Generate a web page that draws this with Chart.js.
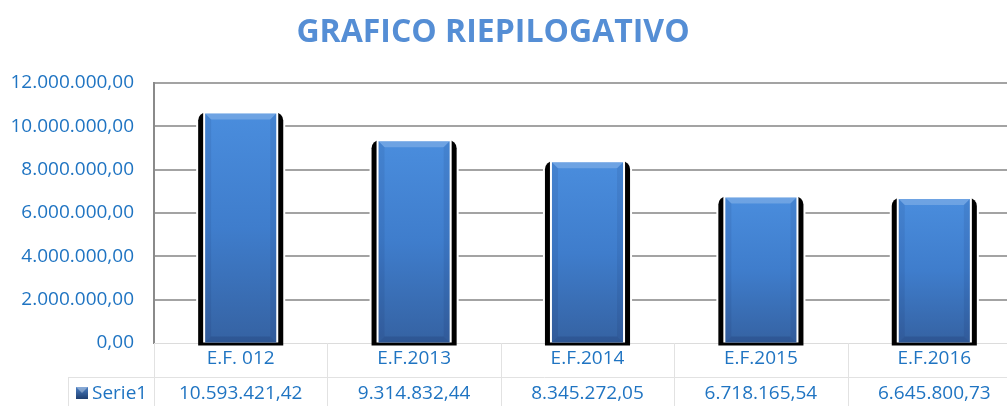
<!DOCTYPE html>
<html>
<head>
<meta charset="utf-8">
<script src="https://cdn.jsdelivr.net/npm/chart.js@4/dist/chart.umd.min.js"></script>
<style>
  html, body { margin: 0; padding: 0; background: #fff; overflow: hidden; }
  #wrap { width: 1007px; height: 406px; overflow: hidden; }
</style>
</head>
<body>
<div id="wrap"><canvas id="myChart" width="1021" height="406"></canvas></div>
<script>
var categories = ["E.F. 012", "E.F.2013", "E.F.2014", "E.F.2015", "E.F.2016"];
var serie1 = [10593421.42, 9314832.44, 8345272.05, 6718165.54, 6645800.73];
var seriesName = "Serie1";
var yTicks = [0, 2000000, 4000000, 6000000, 8000000, 10000000, 12000000];
var titleText = "GRAFICO RIEPILOGATIVO";

var textColor = "#1f74c2";
var font = "'Open Sans', sans-serif";

// 1234567.8 -> "1.234.567,80"
function fmt(v) {
  var parts = v.toFixed(2).split(".");
  return parts[0].replace(/\B(?=(\d{3})+(?!\d))/g, ".") + "," + parts[1];
}

function barGradient(ctx) {
  var chart = ctx.chart;
  var y = chart.scales.y;
  if (!y || !chart.chartArea) return "#3f7fcf";
  var top = y.getPixelForValue(ctx.raw);
  var g = chart.ctx.createLinearGradient(0, top, 0, y.getPixelForValue(0));
  g.addColorStop(0, "#4a8ddd");
  g.addColorStop(0.5, "#3f7dcc");
  g.addColorStop(1, "#3562a2");
  return g;
}

// title drawn by hand so it can sit a bit left of the (wider) canvas centre
var chartTitle = {
  id: "chartTitle",
  afterDraw: function(chart) {
    var c = chart.ctx;
    c.save();
    c.fillStyle = "#558ed5";
    c.font = "bold 32px " + font;
    c.textAlign = "center";
    c.textBaseline = "middle";
    c.fillText(titleText, 493, 33);
    c.restore();
  }
};

// black side shadows behind the bars
var barFrame = {
  id: "barFrame",
  beforeDatasetsDraw: function(chart) {
    var c = chart.ctx;
    var meta = chart.getDatasetMeta(0);
    c.save();
    meta.data.forEach(function(b) {
      var hw = b.width / 2;
      c.fillStyle = "#fff";
      c.fillRect(b.x - hw - 9, b.y - 3, (hw + 9) * 2, b.base - b.y + 2);
      c.fillStyle = "#000";
      c.beginPath();
      c.roundRect(b.x - hw - 7, b.y - 1, (hw + 7) * 2, b.base - b.y + 4, [8, 8, 0, 0]);
      c.fill();
      c.fillStyle = "#fff";
      c.fillRect(b.x - hw - 2, b.y - 3, (hw + 2) * 2, b.base - b.y + 3);
    });
    c.restore();
  },
  afterDatasetsDraw: function(chart) {
    var c = chart.ctx;
    var meta = chart.getDatasetMeta(0);
    c.save();
    meta.data.forEach(function(b) {
      var hw = b.width / 2, l = b.x - hw, r = b.x + hw, t = b.y, d = 6;
      c.fillStyle = "rgba(255,255,255,0.2)";
      c.beginPath();
      c.moveTo(l, t); c.lineTo(r, t); c.lineTo(r - d, t + d); c.lineTo(l + d, t + d);
      c.closePath(); c.fill();
      c.fillStyle = "rgba(0,0,40,0.07)";
      c.beginPath();
      c.moveTo(l, t); c.lineTo(l + d, t + d); c.lineTo(l + d, b.base - d); c.lineTo(l, b.base);
      c.closePath(); c.fill();
      c.beginPath();
      c.moveTo(r, t); c.lineTo(r - d, t + d); c.lineTo(r - d, b.base - d); c.lineTo(r, b.base);
      c.closePath(); c.fill();
      c.fillStyle = "rgba(0,0,40,0.12)";
      c.beginPath();
      c.moveTo(l, b.base); c.lineTo(l + d, b.base - d); c.lineTo(r - d, b.base - d); c.lineTo(r, b.base);
      c.closePath(); c.fill();
    });
    c.restore();
  }
};

// data table under the plot
var dataTable = {
  id: "dataTable",
  afterDraw: function(chart) {
    var c = chart.ctx;
    var x = chart.scales.x;
    var top = chart.chartArea.bottom;
    var rowH = 34;
    var colW = (x.right - x.left) / categories.length;
    var legendLeft = 68;
    c.save();
    c.strokeStyle = "#e2e2e2";
    c.lineWidth = 1;
    c.beginPath();
    c.moveTo(legendLeft, top + rowH + 0.5); c.lineTo(x.right, top + rowH + 0.5);
    c.moveTo(legendLeft + 0.5, top + rowH); c.lineTo(legendLeft + 0.5, chart.height);
    for (var i = 0; i <= categories.length; i++) {
      var vx = Math.round(x.left + i * colW) + 0.5;
      c.moveTo(vx, top); c.lineTo(vx, chart.height);
    }
    c.stroke();

    c.fillStyle = textColor;
    c.font = "19px " + font;
    c.textAlign = "center";
    c.textBaseline = "middle";
    categories.forEach(function(cat, i) {
      var px = x.getPixelForValue(i);
      c.fillText(cat, px, top + 16);
      c.fillText(fmt(serie1[i]), px, top + rowH + 17);
    });
    c.textAlign = "left";
    c.fillText(seriesName, 92, top + rowH + 17);

    // legend key
    var kx = 76, ky = top + rowH + 10, ks = 12;
    var g = c.createLinearGradient(0, ky, 0, ky + ks);
    g.addColorStop(0, "#4a7fc4");
    g.addColorStop(1, "#1f3f70");
    c.fillStyle = g;
    c.fillRect(kx, ky, ks, ks);
    c.fillStyle = "rgba(255,255,255,0.35)";
    c.beginPath();
    c.moveTo(kx, ky); c.lineTo(kx + ks, ky); c.lineTo(kx + ks / 2, ky + ks / 2);
    c.closePath(); c.fill();
    c.restore();
  }
};

new Chart("myChart", {
  type: "bar",
  data: {
    labels: categories,
    datasets: [{
      label: seriesName,
      data: serie1,
      backgroundColor: barGradient,
      borderWidth: 0,
      barPercentage: 0.41,
      categoryPercentage: 1
    }]
  },
  options: {
    responsive: false,
    animation: false,
    layout: { padding: { top: 83 } },
    plugins: {
      legend: { display: false },
      tooltip: { enabled: false },
      title: { display: false }
    },
    scales: {
      x: {
        grid: { display: false },
        border: { display: false },
        ticks: { display: false },
        afterFit: function(s) { s.height = 63; }
      },
      y: {
        min: 0,
        max: 12000000,
        afterBuildTicks: function(s) { s.ticks = yTicks.map(function(v) { return { value: v }; }); },
        afterFit: function(s) { s.width = 154; },
        border: { color: "#8a8a8a", width: 2 },
        grid: {
          drawTicks: false,
          color: function(ctx) { return ctx.tick && ctx.tick.value === 0 ? "#dcdcdc" : "#a3a3a3"; },
          lineWidth: function(ctx) { return ctx.tick && ctx.tick.value === 0 ? 1 : 2; }
        },
        ticks: {
          padding: 20,
          color: textColor,
          font: { family: font, size: 19 },
          callback: function(v) { return fmt(v); }
        }
      }
    }
  },
  plugins: [barFrame, dataTable, chartTitle]
});
</script>
</body>
</html>
